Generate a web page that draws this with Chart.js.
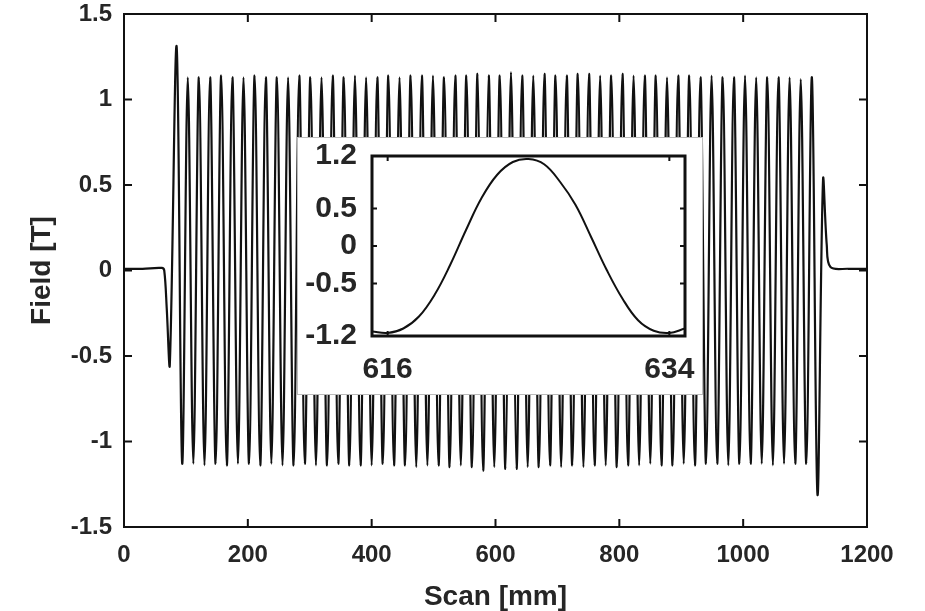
<!DOCTYPE html>
<html>
<head>
<meta charset="utf-8">
<script src="https://cdn.jsdelivr.net/npm/chart.js@4.4.0/dist/chart.umd.min.js"></script>
<style>
  body { margin: 0; background: #fff; }
  #wrap { position: relative; width: 925px; height: 611px; }
  #inset { position: absolute; left: 297px; top: 137px; width: 406px; height: 258px;
           background: #fff; border: 1px solid #bbb; box-sizing: border-box; }
</style>
</head>
<body>
<div id="wrap">
  <canvas id="main" width="925" height="611"></canvas>
  <div id="inset"><canvas id="zoom" width="404" height="256"></canvas></div>
</div>
<script>
// main scan: entry / exit of the undulator
const leadScan = [0, 30, 61, 65, 69, 74];
const leadField = [0.01, 0.01, 0.015, 0.0, -0.22, -0.55];
const tailScan = [1129, 1135, 1141, 1170, 1200];
const tailField = [0.53, 0.15, 0.02, 0.01, 0.01];

// field maxima / minima along the scan (mm, T)
const peakScan = [85, 103, 121, 139, 157, 175, 193, 211, 229, 247,
  265, 283, 301, 319, 337, 355, 373, 391, 409, 427,
  445, 463, 481, 499, 517, 535, 553, 571, 589, 607,
  625, 643, 661, 679, 697, 715, 733, 751, 769, 787,
  805, 823, 841, 859, 877, 895, 913, 931, 949, 967,
  985, 1003, 1021, 1039, 1057, 1075, 1093, 1111];
const peakField = [1.31, 1.13, 1.13, 1.13, 1.14, 1.13, 1.13, 1.14, 1.13, 1.13,
  1.13, 1.14, 1.13, 1.13, 1.14, 1.13, 1.14, 1.13, 1.13, 1.14,
  1.13, 1.14, 1.14, 1.14, 1.13, 1.14, 1.14, 1.15, 1.14, 1.14,
  1.16, 1.14, 1.14, 1.15, 1.14, 1.14, 1.15, 1.15, 1.14, 1.14,
  1.15, 1.14, 1.14, 1.14, 1.13, 1.14, 1.14, 1.13, 1.14, 1.13,
  1.13, 1.14, 1.13, 1.13, 1.13, 1.13, 1.12, 1.13];
const troughScan = [94, 112, 130, 148, 166, 184, 202, 220, 238, 256,
  274, 292, 310, 328, 346, 364, 382, 400, 418, 436,
  454, 472, 490, 508, 526, 544, 562, 580, 598, 616,
  634, 652, 670, 688, 706, 724, 742, 760, 778, 796,
  814, 832, 850, 868, 886, 904, 922, 940, 958, 976,
  994, 1012, 1030, 1048, 1066, 1084, 1102, 1120];
const troughField = [-1.13, -1.13, -1.14, -1.13, -1.14, -1.13, -1.13, -1.14, -1.13, -1.14,
  -1.14, -1.13, -1.14, -1.14, -1.13, -1.14, -1.14, -1.14, -1.13, -1.14,
  -1.14, -1.15, -1.14, -1.14, -1.15, -1.14, -1.15, -1.17, -1.15, -1.16,
  -1.16, -1.15, -1.15, -1.14, -1.15, -1.14, -1.15, -1.14, -1.14, -1.15,
  -1.14, -1.14, -1.13, -1.14, -1.14, -1.13, -1.14, -1.13, -1.13, -1.14,
  -1.13, -1.13, -1.13, -1.14, -1.13, -1.13, -1.13, -1.31];

// inset: one period, 615..635 mm
const insetScan = [615, 616, 617, 618, 619, 620, 621, 622, 623, 624, 625,
  626, 627, 628, 629, 630, 631, 632, 633, 634, 635];
const insetField = [-1.14, -1.16, -1.10, -0.94, -0.65, -0.25, 0.21, 0.64, 0.95, 1.12, 1.16,
  1.09, 0.86, 0.55, 0.12, -0.32, -0.70, -0.99, -1.13, -1.16, -1.10];

const mainTicksX = [0, 200, 400, 600, 800, 1000, 1200];
const mainTicksY = [-1.5, -1, -0.5, 0, 0.5, 1, 1.5];
const insetTicksX = [616, 634];
const insetTicksY = [-1.2, -0.5, 0, 0.5, 1.2];

const ink = '#111';
const textCol = '#262626';
const family = "'Liberation Sans', Arial, sans-serif";

function toPoints(xs, ys) {
  return xs.map((x, i) => ({ x: x, y: ys[i] }));
}

const mainPoints = toPoints(leadScan, leadField)
  .concat(toPoints(peakScan, peakField), toPoints(troughScan, troughField))
  .sort((a, b) => a.x - b.x)
  .concat(toPoints(tailScan, tailField));

// frame + inward tick marks on all four sides
function boxTicks(len, frameWidth) {
  return {
    id: 'boxTicks',
    afterDraw(chart) {
      const { ctx, chartArea: a, scales: { x, y } } = chart;
      ctx.save();
      ctx.strokeStyle = ink;
      ctx.lineWidth = 2;
      ctx.beginPath();
      x.ticks.forEach(t => {
        const px = x.getPixelForValue(t.value);
        ctx.moveTo(px, a.bottom); ctx.lineTo(px, a.bottom - len);
        ctx.moveTo(px, a.top); ctx.lineTo(px, a.top + len);
      });
      y.ticks.forEach(t => {
        const py = y.getPixelForValue(t.value);
        ctx.moveTo(a.left, py); ctx.lineTo(a.left + len, py);
        ctx.moveTo(a.right, py); ctx.lineTo(a.right - len, py);
      });
      ctx.stroke();
      ctx.lineWidth = frameWidth;
      ctx.strokeRect(a.left, a.top, a.right - a.left, a.bottom - a.top);
      ctx.restore();
    }
  };
}

function fixedTicks(values) {
  return scale => { scale.ticks = values.map(v => ({ value: v })); };
}

// keep the plot area where the layout padding puts it
function fitX(h) {
  return s => { s.height = h; s.paddingLeft = 0; s.paddingRight = 0; };
}
function fitY(w) {
  return s => { s.width = w; s.paddingTop = 0; s.paddingBottom = 0; };
}

const tickFont = { family: family, size: 24, weight: 'bold' };
const titleFont = { family: family, size: 28, weight: 'bold', lineHeight: 1 };
const insetFont = { family: family, size: 30, weight: 'bold' };

new Chart(document.getElementById('main').getContext('2d'), {
  type: 'line',
  data: {
    datasets: [{
      data: mainPoints,
      borderColor: ink,
      borderWidth: 2.2,
      pointRadius: 0,
      tension: 0.35
    }]
  },
  options: {
    responsive: false,
    animation: false,
    layout: { padding: { top: 14, right: 58, left: 0, bottom: 0 } },
    plugins: { legend: { display: false }, tooltip: { enabled: false } },
    scales: {
      x: {
        type: 'linear', min: 0, max: 1200,
        afterBuildTicks: fixedTicks(mainTicksX),
        ticks: { color: textCol, padding: 14, maxRotation: 0, font: tickFont,
                 callback: v => String(v) },
        grid: { display: false, drawTicks: false },
        border: { display: false },
        title: { display: true, text: 'Scan [mm]', color: textCol, font: titleFont,
                 padding: { top: 0, bottom: 0 } },
        afterFit: fitX(84)
      },
      y: {
        type: 'linear', min: -1.5, max: 1.5,
        afterBuildTicks: fixedTicks(mainTicksY),
        ticks: { color: textCol, padding: 12, font: tickFont,
                 callback: v => String(v) },
        grid: { display: false, drawTicks: false },
        border: { display: false },
        title: { display: true, text: 'Field [T]', color: textCol, font: titleFont,
                 padding: { top: 28, bottom: 0 } },
        afterFit: fitY(124)
      }
    }
  },
  plugins: [boxTicks(8, 2)]
});

new Chart(document.getElementById('zoom').getContext('2d'), {
  type: 'line',
  data: {
    datasets: [{
      data: toPoints(insetScan, insetField),
      borderColor: ink,
      borderWidth: 2,
      pointRadius: 0,
      tension: 0.4
    }]
  },
  options: {
    responsive: false,
    animation: false,
    layout: { padding: { top: 18, right: 17, left: 0, bottom: 0 } },
    plugins: { legend: { display: false }, tooltip: { enabled: false } },
    scales: {
      x: {
        type: 'linear', min: 615, max: 635,
        afterBuildTicks: fixedTicks(insetTicksX),
        ticks: { color: textCol, padding: 16, maxRotation: 0, font: insetFont,
                 callback: v => String(v) },
        grid: { display: false, drawTicks: false },
        border: { display: false },
        afterFit: fitX(58)
      },
      y: {
        type: 'linear', min: -1.2, max: 1.2,
        afterBuildTicks: fixedTicks(insetTicksY),
        ticks: { color: textCol, padding: 15, font: insetFont,
                 callback: v => String(v) },
        grid: { display: false, drawTicks: false },
        border: { display: false },
        afterFit: fitY(74)
      }
    }
  },
  plugins: [boxTicks(5, 3)]
});
</script>
</body>
</html>
